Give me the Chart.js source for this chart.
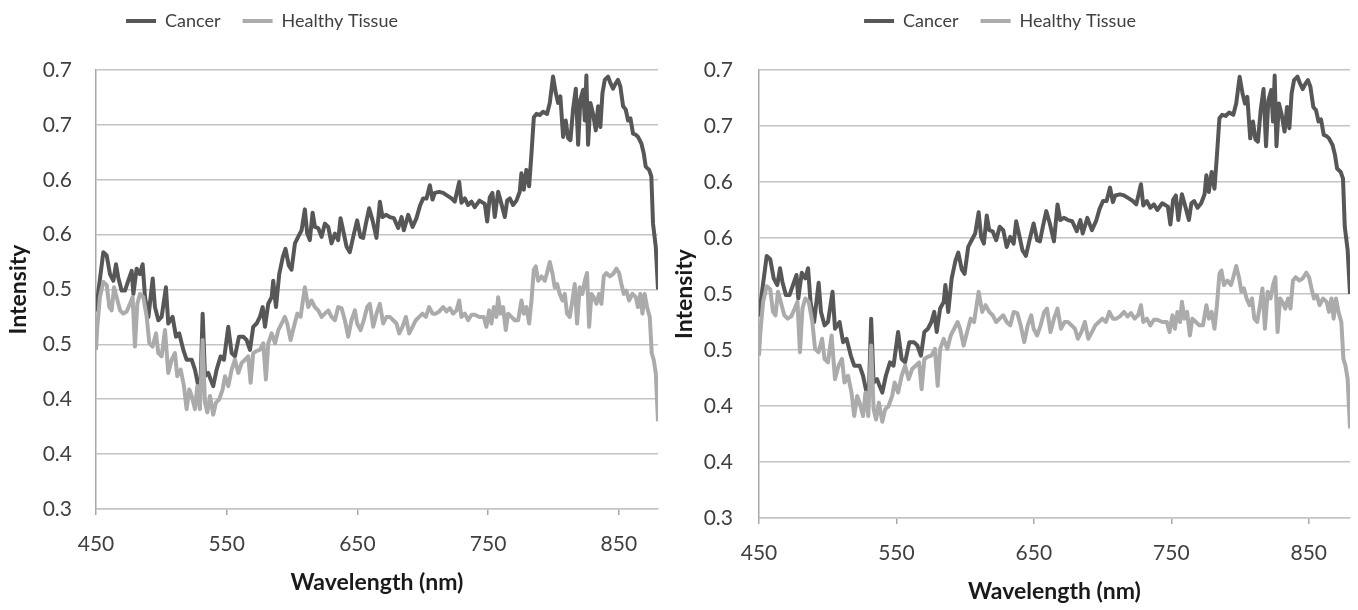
<!DOCTYPE html>
<html>
<head>
<meta charset="utf-8">
<script src="https://cdn.jsdelivr.net/npm/chart.js@4.4.1/dist/chart.umd.min.js"></script>
<style>
  html, body { margin: 0; padding: 0; background: #fff; }
  #wrap { position: relative; width: 1358px; height: 610px; }
  canvas { position: absolute; top: 0; }
  #left { left: 0; }
  #right { left: 670px; }
</style>
</head>
<body>
<div id="wrap">
  <canvas id="left" width="670" height="610"></canvas>
  <canvas id="right" width="688" height="610"></canvas>
</div>
<script>
// spectra (both panels show the same curves)
const seriesNames = ['Cancer', 'Healthy Tissue'];

const cancerWl = [450, 452, 455.6, 458.2, 460.7, 463.3, 465.3, 467, 469.6, 472.2, 474.7, 477.3, 478.6, 481.1, 483.7, 485.7, 487.5, 490.1, 493.4, 495.1,
  497.7, 500.2, 503.5, 505.3, 508.6, 511.2, 513.7, 516.8, 519.3, 523.2, 525.7, 528.3, 530, 531.6, 533.4, 535.9, 537.7, 539.7, 542.3, 545.3,
  547.9, 551.2, 553.8, 556.3, 559.4, 562.7, 565.2, 567.8, 570.3, 572.9, 575.4, 577.5, 579.3, 581.8, 584.4, 585.6, 587.7, 590.2, 593, 595,
  597.5, 599.6, 602.2, 604.7, 607.3, 609.8, 611.6, 613.6, 615.7, 617.5, 620, 622.6, 625.1, 627.7, 630.2, 632.8, 635.3, 637.1, 639.6, 641.7,
  644.2, 646.8, 649.8, 652.4, 654.4, 656.5, 659, 661.6, 664.6, 667.2, 669.2, 671.8, 674.8, 677.9, 681.2, 683.8, 685.5, 688.9, 692.2, 695.2,
  697.8, 700.3, 702.9, 705.4, 707.5, 709.2, 712.6, 715.6, 718.2, 722, 724.5, 727.9, 729.6, 732.2, 734.7, 737.3, 739.8, 743.4, 747.5, 749.3,
  751.3, 753.3, 755.1, 757.7, 760.2, 762.8, 764.6, 766.6, 769.1, 771.7, 774.2, 775.5, 777.3, 779.3, 781.4, 783.2, 785, 787, 789.5, 792.1,
  795.1, 797.2, 799.7, 801.8, 803.6, 805.3, 807.4, 809.4, 811.2, 813, 815, 817.1, 818.9, 820.6, 822.7, 824, 825.2, 826.5, 828.3, 830.3,
  832.4, 834.2, 835.9, 837.5, 839.3, 841.8, 843.6, 845.6, 847.7, 849.4, 851.2, 853.3, 855.3, 857.1, 858.9, 860.9, 863, 864.7, 867.3, 869.1,
  870.6, 873.2, 874.9, 876.2, 878.3, 880];
const cancerVal = [0.480, 0.500, 0.534, 0.531, 0.514, 0.508, 0.523, 0.511, 0.499, 0.499, 0.508, 0.517, 0.496, 0.519, 0.514, 0.523, 0.493, 0.475, 0.510, 0.484,
  0.472, 0.475, 0.502, 0.469, 0.475, 0.457, 0.460, 0.445, 0.436, 0.436, 0.427, 0.412, 0.415, 0.478, 0.421, 0.424, 0.418, 0.412, 0.427, 0.439,
  0.436, 0.466, 0.442, 0.439, 0.457, 0.457, 0.454, 0.445, 0.466, 0.469, 0.475, 0.484, 0.466, 0.487, 0.493, 0.508, 0.484, 0.514, 0.530, 0.537,
  0.522, 0.518, 0.542, 0.548, 0.554, 0.573, 0.551, 0.545, 0.570, 0.557, 0.556, 0.548, 0.560, 0.557, 0.542, 0.551, 0.545, 0.565, 0.551, 0.539,
  0.534, 0.548, 0.563, 0.548, 0.547, 0.560, 0.574, 0.563, 0.547, 0.580, 0.566, 0.568, 0.566, 0.565, 0.556, 0.566, 0.554, 0.568, 0.557, 0.565,
  0.576, 0.583, 0.583, 0.595, 0.582, 0.588, 0.589, 0.588, 0.586, 0.583, 0.580, 0.598, 0.579, 0.583, 0.577, 0.580, 0.575, 0.581, 0.578, 0.562,
  0.584, 0.588, 0.566, 0.589, 0.578, 0.566, 0.581, 0.583, 0.577, 0.581, 0.589, 0.606, 0.591, 0.609, 0.594, 0.624, 0.657, 0.660, 0.659, 0.662,
  0.660, 0.670, 0.694, 0.679, 0.670, 0.676, 0.639, 0.654, 0.638, 0.636, 0.664, 0.683, 0.632, 0.673, 0.682, 0.654, 0.695, 0.632, 0.670, 0.660,
  0.645, 0.667, 0.648, 0.679, 0.691, 0.694, 0.688, 0.683, 0.688, 0.691, 0.685, 0.667, 0.664, 0.654, 0.656, 0.642, 0.641, 0.639, 0.633, 0.624,
  0.612, 0.609, 0.603, 0.560, 0.539, 0.500];

const healthyWl = [450, 451, 453, 455.6, 458.2, 460.2, 462, 463.8, 465.8, 468.4, 470.9, 473.5, 476, 478, 479.8, 481.6, 483.7, 486.2, 488.8, 490.8,
  493.3, 495.9, 497.7, 500.2, 502.8, 505.3, 507.9, 510.4, 512.2, 514.8, 517.3, 519.3, 521.4, 523.2, 525.7, 527.5, 529.5, 531.6, 533.4, 535.2,
  537.2, 539.7, 541.8, 544.3, 546.9, 548.7, 551.2, 553.8, 556.3, 558.9, 561.4, 564, 566.5, 568.3, 570.3, 572.9, 575.4, 578, 580, 581.8,
  584.4, 587, 589.5, 592, 594.5, 596.3, 598.9, 601.4, 604, 606.5, 609.8, 612.4, 614.9, 617.5, 620, 622.6, 625.1, 627.7, 630.2, 632.8,
  635.3, 637.9, 640.4, 643, 645.5, 648.1, 649.8, 652.4, 654.9, 657.5, 659.5, 662.1, 664.6, 667.2, 669.7, 672.3, 674.8, 677.4, 679.9, 682,
  684.5, 687.1, 689.6, 692.2, 694.7, 697.3, 699.8, 702.4, 704.9, 707.5, 710, 712.6, 715.6, 718.2, 720.7, 723.3, 725.8, 727.9, 729.6, 732.2,
  734.7, 737.3, 739.8, 743.4, 746.7, 748.7, 750.8, 752.6, 754.4, 756.4, 757.7, 759.5, 761.5, 763.5, 765.3, 767.9, 770.4, 773, 775.5, 777.3,
  779.3, 781.4, 783.2, 785, 786.5, 788.3, 790.8, 793.4, 795.1, 797.2, 799.2, 801, 802.8, 804.8, 806.9, 808.7, 810.4, 812.5, 814.5, 816.3,
  818.1, 820.1, 822.2, 824, 825.7, 827.3, 829.1, 830.8, 832.9, 834.9, 836.7, 838.5, 840.5, 843.1, 845.6, 848.2, 850.2, 852, 853.8, 855.8,
  857.9, 860.4, 863, 864.7, 866.5, 868.1, 869.8, 871.6, 873.7, 875.2, 876.7, 878.3, 880];
const healthyVal = [0.445, 0.466, 0.493, 0.507, 0.504, 0.484, 0.481, 0.502, 0.493, 0.481, 0.478, 0.480, 0.487, 0.493, 0.448, 0.487, 0.496, 0.493, 0.475, 0.451,
  0.448, 0.460, 0.442, 0.439, 0.463, 0.424, 0.436, 0.442, 0.421, 0.427, 0.412, 0.391, 0.409, 0.403, 0.391, 0.412, 0.391, 0.454, 0.397, 0.388,
  0.403, 0.386, 0.397, 0.400, 0.409, 0.421, 0.412, 0.427, 0.436, 0.424, 0.433, 0.436, 0.439, 0.415, 0.442, 0.444, 0.445, 0.451, 0.418, 0.451,
  0.460, 0.451, 0.463, 0.469, 0.475, 0.469, 0.454, 0.466, 0.478, 0.475, 0.502, 0.484, 0.490, 0.484, 0.481, 0.475, 0.478, 0.481, 0.475, 0.472,
  0.484, 0.483, 0.472, 0.457, 0.472, 0.481, 0.469, 0.463, 0.472, 0.484, 0.487, 0.466, 0.478, 0.487, 0.469, 0.475, 0.475, 0.472, 0.469, 0.460,
  0.466, 0.475, 0.460, 0.466, 0.472, 0.475, 0.478, 0.475, 0.484, 0.478, 0.478, 0.480, 0.484, 0.480, 0.483, 0.478, 0.481, 0.490, 0.475, 0.478,
  0.472, 0.477, 0.477, 0.475, 0.475, 0.466, 0.481, 0.469, 0.484, 0.475, 0.493, 0.478, 0.484, 0.463, 0.478, 0.475, 0.472, 0.472, 0.490, 0.478,
  0.484, 0.469, 0.490, 0.518, 0.521, 0.508, 0.512, 0.508, 0.515, 0.525, 0.515, 0.502, 0.505, 0.496, 0.490, 0.496, 0.478, 0.475, 0.490, 0.505,
  0.469, 0.502, 0.496, 0.508, 0.515, 0.466, 0.496, 0.493, 0.487, 0.496, 0.487, 0.512, 0.515, 0.512, 0.514, 0.519, 0.515, 0.505, 0.496, 0.499,
  0.490, 0.496, 0.493, 0.484, 0.496, 0.478, 0.496, 0.484, 0.475, 0.442, 0.436, 0.424, 0.380];

const xTickValues = [450, 550, 650, 750, 850];
const yTickValues = [0.30, 0.35, 0.40, 0.45, 0.50, 0.55, 0.60, 0.65, 0.70];
const yTickLabels = ['0.3', '0.4', '0.4', '0.5', '0.5', '0.6', '0.6', '0.7', '0.7'];

const FONT = "Lato, 'Open Sans', sans-serif";
const CANCER_COLOR = '#575757';
const HEALTHY_COLOR = '#ababab';
const GRID_COLOR = '#c4c4c4';
const LEGEND_FONT = 18;
const LEGEND_PAD = 22;
const TICK_FONT = 21;
const TITLE_FONT = 23;

const toPoints = (xs, ys) => xs.map((x, i) => ({ x, y: ys[i] }));

// moves the legend after layout so it can sit off-centre like the original
const legendShift = {
  id: 'legendShift',
  afterLayout(chart, args, opts) {
    const lg = chart.legend;
    if (!lg) return;
    const half = (lg.right - lg.left) / 2;
    const h = lg.bottom - lg.top;
    lg.left = opts.cx - half;
    lg.right = opts.cx + half;
    lg.top = opts.top;
    lg.bottom = opts.top + h;
  }
};

function makePanel(canvas, g) {
  const legendH = LEGEND_FONT + LEGEND_PAD + 10;
  return new Chart(canvas, {
    type: 'line',
    data: {
      datasets: [
        {
          label: seriesNames[0],
          data: toPoints(cancerWl, cancerVal),
          borderColor: CANCER_COLOR,
          backgroundColor: CANCER_COLOR,
          borderWidth: 4,
          pointRadius: 0,
          tension: 0,
          borderJoinStyle: 'round',
          order: 1
        },
        {
          label: seriesNames[1],
          data: toPoints(healthyWl, healthyVal),
          borderColor: HEALTHY_COLOR,
          backgroundColor: HEALTHY_COLOR,
          borderWidth: 4,
          pointRadius: 0,
          tension: 0,
          borderJoinStyle: 'round',
          order: 0
        }
      ]
    },
    options: {
      responsive: false,
      animation: false,
      layout: {
        padding: { left: 0, right: g.canvasW - g.right, top: g.top - legendH, bottom: 0 }
      },
      plugins: {
        legend: {
          position: 'top',
          labels: {
            font: { family: FONT, size: LEGEND_FONT },
            color: '#404040',
            boxWidth: 30,
            boxHeight: 4,
            padding: LEGEND_PAD,
            sort: (a, b) => a.datasetIndex - b.datasetIndex,
            generateLabels: (chart) =>
              Chart.defaults.plugins.legend.labels.generateLabels(chart).map(l => ({ ...l, lineWidth: 0 }))
          }
        },
        tooltip: { enabled: false },
        legendShift: { cx: g.legendCx, top: 21 - LEGEND_PAD - LEGEND_FONT / 2 }
      },
      scales: {
        x: {
          type: 'linear',
          min: 450,
          max: 880,
          afterBuildTicks: (s) => { s.ticks = xTickValues.map(v => ({ value: v })); },
          afterFit: (s) => { s.height = 610 - g.bottom; },
          grid: { drawOnChartArea: false, drawTicks: true, tickLength: 6, color: '#a8a8a8', lineWidth: 1.5 },
          border: { display: true, color: GRID_COLOR, width: 1.5 },
          ticks: { color: '#404040', font: { family: FONT, size: TICK_FONT }, padding: 17, maxRotation: 0 },
          title: {
            display: true,
            text: 'Wavelength (nm)',
            color: '#1a1a1a',
            font: { family: FONT, size: TITLE_FONT, weight: 'bold' },
            padding: { top: 0, bottom: g.xTitlePad }
          }
        },
        y: {
          min: 0.3,
          max: 0.7,
          afterBuildTicks: (s) => { s.ticks = yTickValues.map(v => ({ value: v })); },
          afterFit: (s) => { s.width = g.left; },
          grid: { color: GRID_COLOR, lineWidth: 1.5, drawTicks: false },
          border: { display: true, color: '#a8a8a8', width: 1.5 },
          ticks: {
            color: '#404040',
            font: { family: FONT, size: TICK_FONT },
            padding: g.yTickPad,
            callback: (v, i) => yTickLabels[i]
          },
          title: {
            display: true,
            text: 'Intensity',
            color: '#1a1a1a',
            font: { family: FONT, size: TITLE_FONT, weight: 'bold' },
            padding: { top: g.yTitlePad, bottom: 0 }
          }
        }
      }
    },
    plugins: [legendShift]
  });
}

makePanel(document.getElementById('left'), {
  canvasW: 670, left: 96, right: 658, top: 70, bottom: 509,
  legendCx: 262, xTitlePad: 14, yTitlePad: 5, yTickPad: 24
});
makePanel(document.getElementById('right'), {
  canvasW: 688, left: 89, right: 680, top: 70, bottom: 518,
  legendCx: 330, xTitlePad: 5, yTitlePad: 1, yTickPad: 26
});
</script>
</body>
</html>
